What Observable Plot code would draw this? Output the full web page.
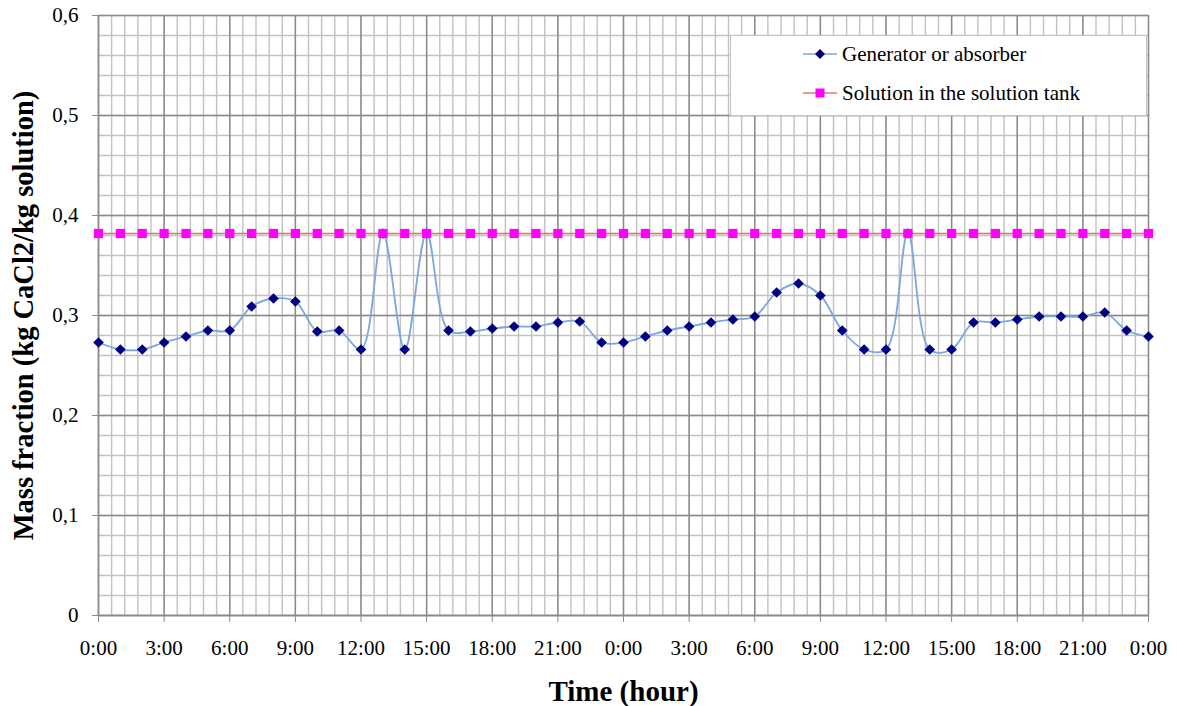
<!DOCTYPE html>
<html>
<head>
<meta charset="utf-8">
<script src="https://cdn.jsdelivr.net/npm/d3@7"></script>
<script src="https://cdn.jsdelivr.net/npm/@observablehq/plot@0.6"></script>
<style>
  body { margin: 0; background: #fff; }
  #wrap { position: relative; width: 1177px; height: 706px; }
  #legend {
    position: absolute; left: 730px; top: 35px; width: 417px; height: 81px;
    background: #fff; border: 1px solid #c4c4c4; box-sizing: border-box;
    font-family: "Liberation Serif", "Times New Roman", serif; font-size: 21px; color: #000;
  }
  .row { position: absolute; left: 72px; height: 24px; display: flex; align-items: center; }
  .row svg { margin-right: 5px; }
</style>
</head>
<body>
<div id="wrap">
  <div id="chart"></div>
  <div id="legend">
    <div class="row" style="top:6px">
      <svg width="34" height="20"><line x1="0" y1="10" x2="34" y2="10" stroke="#7ba7dc" stroke-width="1.5"/><path d="M17,5 L22,10 L17,15 L12,10 Z" fill="#000080"/></svg>
      <span style="font-family:'Liberation Serif',serif">Generator or absorber</span>
    </div>
    <div class="row" style="top:45px">
      <svg width="34" height="20"><line x1="0" y1="10" x2="34" y2="10" stroke="#e07878" stroke-width="1.5"/><rect x="12.5" y="5.5" width="9" height="9" fill="#ff00ff"/></svg>
      <span style="font-family:'Liberation Serif',serif">Solution in the solution tank</span>
    </div>
  </div>
</div>
<script>
// Data (hours over two days)
const hours = [0,1,2,3,4,5,6,7,8,9,10,11,12,13,14,15,16,17,18,19,20,21,22,23,24,
               25,26,27,28,29,30,31,32,33,34,35,36,37,38,39,40,41,42,43,44,45,46,47,48];
const generator = [0.273,0.266,0.266,0.273,0.279,0.285,0.285,0.309,0.317,0.314,0.284,0.285,0.266,
                   0.382,0.266,0.382,0.285,0.284,0.287,0.289,0.289,0.293,0.294,0.273,0.273,
                   0.279,0.285,0.289,0.293,0.296,0.299,0.323,0.332,0.320,0.285,0.266,0.266,
                   0.382,0.266,0.266,0.293,0.293,0.296,0.299,0.299,0.299,0.303,0.285,0.279];
const tank = [0.382,0.382,0.382,0.382,0.382,0.382,0.382,0.382,0.382,0.382,0.382,0.382,0.382,
              0.382,0.382,0.382,0.382,0.382,0.382,0.382,0.382,0.382,0.382,0.382,0.382,
              0.382,0.382,0.382,0.382,0.382,0.382,0.382,0.382,0.382,0.382,0.382,0.382,
              0.382,0.382,0.382,0.382,0.382,0.382,0.382,0.382,0.382,0.382,0.382,0.382];
const xTicks = [0,3,6,9,12,15,18,21,24,27,30,33,36,39,42,45,48];
const yTicks = [0,0.1,0.2,0.3,0.4,0.5,0.6];
const xTitle = "Time (hour)";
const yTitle = "Mass fraction (kg CaCl2/kg solution)";

const genData = hours.map((h, i) => ({h, v: generator[i]}));
const tankData = hours.map((h, i) => ({h, v: tank[i]}));

const xMinor = d3.range(0, 48.0001, 0.6);
const yMinor = d3.range(0, 0.6001, 0.02);

const font = "Liberation Serif, Times New Roman, serif";

const chart = Plot.plot({
  width: 1177,
  height: 706,
  marginLeft: 98,
  marginRight: 29,
  marginTop: 15,
  marginBottom: 91,
  style: {fontFamily: font, background: "#fff", color: "#000"},
  x: {domain: [0, 48]},
  y: {domain: [0, 0.6]},
  marks: [
    Plot.ruleX(xMinor, {stroke: "#c2c2c2", strokeWidth: 1.4}),
    Plot.ruleY(yMinor, {stroke: "#c2c2c2", strokeWidth: 1.4}),
    Plot.ruleX(xTicks, {stroke: "#8a8a8a", strokeWidth: 1.4}),
    Plot.ruleY(yTicks, {stroke: "#8a8a8a", strokeWidth: 1.4}),
    Plot.axisX({ticks: xTicks, tickFormat: d => (d % 24) + ":00", tickSize: 7, tickPadding: 18,
                fontSize: 21, label: null, stroke: "#8a8a8a", fill: "#000"}),
    Plot.axisY({ticks: yTicks, tickFormat: d => d === 0 ? "0" : d.toFixed(1).replace(".", ","),
                tickSize: 6, tickPadding: 14, fontSize: 21, label: null, stroke: "#8a8a8a", fill: "#000"}),
    Plot.ruleX([0], {stroke: "#8a8a8a", strokeWidth: 1.4}),
    Plot.ruleY([0], {stroke: "#8a8a8a", strokeWidth: 1.4}),
    Plot.line(genData, {x: "h", y: "v", stroke: "#7ba7dc", strokeWidth: 1.8, curve: "catmull-rom"}),
    Plot.dot(genData, {x: "h", y: "v", symbol: "diamond2", r: 4.8, fill: "#000080", stroke: "none"}),
    Plot.line(tankData, {x: "h", y: "v", stroke: "#e07070", strokeWidth: 1.5}),
    Plot.dot(tankData, {x: "h", y: "v", symbol: "square", r: 5.2, fill: "#ff00ff", stroke: "none"}),
    Plot.text([xTitle], {frameAnchor: "bottom", dy: 76, textAnchor: "middle", lineAnchor: "middle",
                         fontSize: 29, fontWeight: "bold", fill: "#000"}),
    Plot.text([yTitle], {frameAnchor: "left", dx: -75, rotate: -90, textAnchor: "middle", lineAnchor: "middle",
                         fontSize: 28.5, fontWeight: "bold", fill: "#000"})
  ]
});
document.getElementById("chart").appendChild(chart);
</script>
</body>
</html>
